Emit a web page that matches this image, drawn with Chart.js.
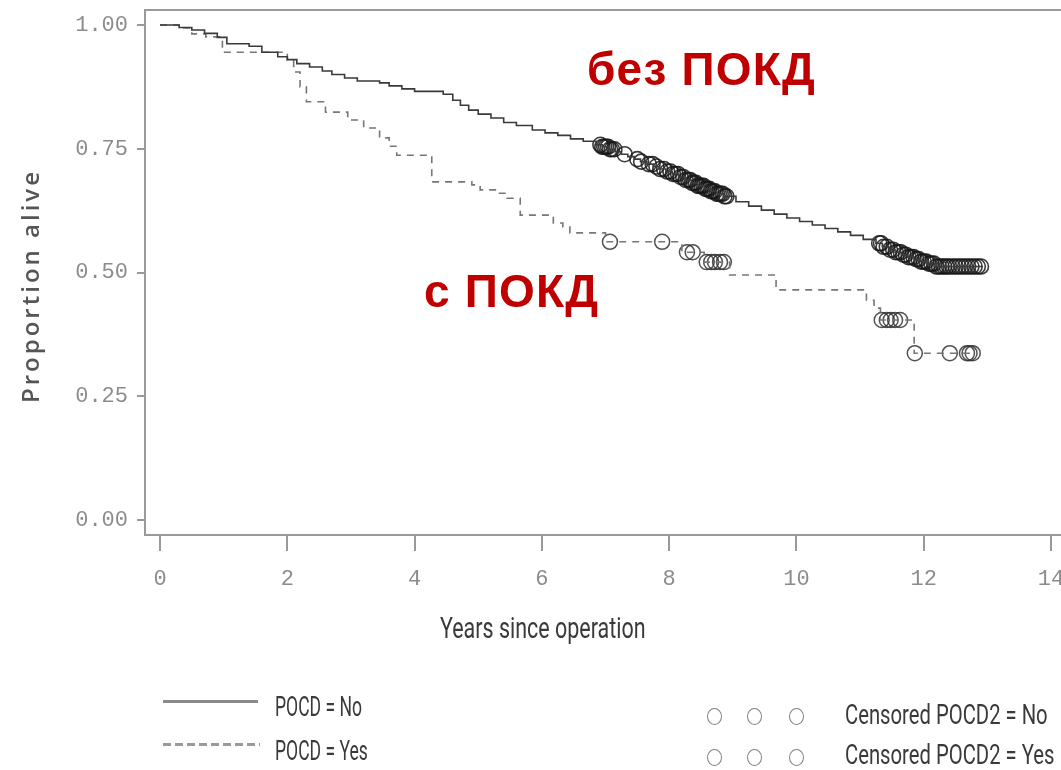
<!DOCTYPE html>
<html>
<head>
<meta charset="utf-8">
<script src="https://cdn.jsdelivr.net/npm/chart.js@4"></script>
<style>
  html, body { margin: 0; padding: 0; background: #fff; }
  #wrap { position: relative; width: 1061px; height: 770px; overflow: hidden; background: #fff; }
  #km { position: absolute; left: 0; top: 0; }
  .txt { position: absolute; white-space: nowrap; }
  .ru { font-family: "Liberation Sans", Arial, sans-serif; font-weight: bold; font-size: 46px; line-height: 46px; letter-spacing: 1.2px; color: #c00000; }
  .cond { font-family: Roboto, sans-serif; font-size: 27px; line-height: 32px; color: #3a3a3a; transform-origin: left top; }
  .ring { position: absolute; width: 13px; height: 15px; border: 1.6px solid #808080; border-radius: 50%; }
</style>
</head>
<body>
<div id="wrap">
  <canvas id="km" width="1130" height="770"></canvas>

  <div class="txt" style="left:-120px; top:272px; width:300px; height:28px; line-height:28px; text-align:center; font-family:'Open Sans',sans-serif; font-weight:600; font-size:24px; letter-spacing:3px; color:#555; transform:rotate(-90deg);">Proportion alive</div>
  <div class="txt" style="left:440px; top:611px; font-family:Roboto,sans-serif; font-size:29px; line-height:34px; color:#3a3a3a; transform:scaleX(0.74); transform-origin:left top;">Years since operation</div>

  <div class="txt ru" style="left:587px; top:46px;">без ПОКД</div>
  <div class="txt ru" style="left:424px; top:268px;">с ПОКД</div>

  <div style="position:absolute; left:163px; top:700px; width:95px; height:3px; background:#8a8a8a;"></div>
  <div style="position:absolute; left:163px; top:743px; width:97px; height:3px; background:repeating-linear-gradient(to right, #9a9a9a 0 8px, transparent 8px 12px);"></div>
  <div class="txt cond" style="left:275px; top:691px; transform:scaleX(0.65);">POCD = No</div>
  <div class="txt cond" style="left:275px; top:735px; transform:scaleX(0.65);">POCD = Yes</div>

  <div class="ring" style="left:707px; top:708px;"></div>
  <div class="ring" style="left:747px; top:708px;"></div>
  <div class="ring" style="left:789px; top:708px;"></div>
  <div class="ring" style="left:707px; top:749px;"></div>
  <div class="ring" style="left:747px; top:749px;"></div>
  <div class="ring" style="left:789px; top:749px;"></div>
  <div class="txt cond" style="left:845px; top:699px; transform:scaleX(0.75);">Censored POCD2 = No</div>
  <div class="txt cond" style="left:845px; top:739px; transform:scaleX(0.75);">Censored POCD2 = Yes</div>
</div>

<script>
'use strict';

// Kaplan-Meier curve, POCD = No (time in years, proportion alive after the step)
const noTimes = [
  0, 0.3, 0.5, 0.7, 0.9, 1.05, 1.4, 1.6, 1.85, 2.0,
  2.15, 2.35, 2.55, 2.7, 2.9, 3.1, 3.45, 3.6, 3.8, 4.0,
  4.45, 4.6, 4.72, 4.85, 5.0, 5.2, 5.4, 5.6, 5.85, 6.05,
  6.25, 6.45, 6.65, 6.85, 6.95, 7.05, 7.15, 7.25, 7.35, 7.45,
  7.55, 7.65, 7.75, 7.85, 7.95, 8.05, 8.15, 8.25, 8.35, 8.45,
  8.55, 8.65, 8.75, 8.85, 9.05, 9.25, 9.45, 9.65, 9.85, 10.05,
  10.25, 10.45, 10.65, 10.85, 11.05, 11.25, 11.35, 11.45, 11.55, 11.65,
  11.75, 11.85, 11.95, 12.05, 12.2, 12.93
];
const noSurv = [
  1.0, 0.995, 0.99, 0.983, 0.975, 0.962, 0.957, 0.945, 0.936, 0.93,
  0.922, 0.915, 0.907, 0.9, 0.893, 0.887, 0.883, 0.877, 0.871, 0.866,
  0.86, 0.848, 0.838, 0.828, 0.82, 0.812, 0.803, 0.797, 0.788, 0.782,
  0.777, 0.77, 0.765, 0.758, 0.754, 0.749, 0.744, 0.739, 0.734, 0.729,
  0.724, 0.719, 0.714, 0.709, 0.704, 0.699, 0.693, 0.687, 0.681, 0.675,
  0.669, 0.664, 0.659, 0.654, 0.643, 0.634, 0.626, 0.618, 0.61, 0.603,
  0.596, 0.589, 0.582, 0.575, 0.567, 0.559, 0.552, 0.546, 0.541, 0.536,
  0.531, 0.527, 0.522, 0.518, 0.512, 0.512
];

// Kaplan-Meier curve, POCD = Yes
const yesTimes = [
  0, 0.35, 0.5, 0.72, 0.98, 2.0, 2.1, 2.2, 2.3, 2.6,
  2.95, 3.2, 3.45, 3.6, 3.72, 4.27, 4.9, 5.03, 5.3, 5.45,
  5.66, 6.18, 6.33, 6.44, 7.0, 8.2, 8.55, 8.95, 9.68, 11.1,
  11.22, 11.32, 11.85, 12.8
];
const yesSurv = [
  1.0, 0.994, 0.982, 0.976, 0.945, 0.93, 0.905, 0.875, 0.845, 0.824,
  0.808, 0.792, 0.772, 0.755, 0.737, 0.683, 0.677, 0.667, 0.66, 0.65,
  0.616, 0.6, 0.592, 0.58, 0.562, 0.541, 0.521, 0.495, 0.465, 0.444,
  0.428, 0.404, 0.337, 0.337
];

// censoring times (circles sit on the curve)
const noCensored = [
  6.92, 6.95, 6.98, 7.01, 7.04, 7.07, 7.1, 7.14, 7.3, 7.5,
  7.56, 7.68, 7.74, 7.8, 7.86, 7.92, 7.97, 8.02, 8.06, 8.1,
  8.14, 8.18, 8.22, 8.26, 8.3, 8.33, 8.36, 8.39, 8.42, 8.45,
  8.48, 8.51, 8.54, 8.57, 8.6, 8.63, 8.66, 8.69, 8.72, 8.75,
  8.78, 8.81, 8.84, 8.87, 8.9,
  11.3, 11.33, 11.37, 11.42, 11.47, 11.52, 11.56, 11.6, 11.64, 11.68,
  11.72, 11.76, 11.8, 11.84, 11.88, 11.92, 11.96, 12.0, 12.04, 12.08,
  12.12, 12.16, 12.2, 12.24, 12.28, 12.32, 12.36, 12.4, 12.45, 12.5,
  12.55, 12.6, 12.65, 12.7, 12.75, 12.8, 12.85, 12.9
];
const yesCensored = [
  7.07, 7.89, 8.28, 8.37, 8.59, 8.66, 8.72, 8.8, 8.86,
  11.34, 11.42, 11.48, 11.55, 11.63, 11.86, 12.41, 12.68, 12.72, 12.77
];

const xTicks = [0, 2, 4, 6, 8, 10, 12, 14];
const yTicks = [0, 0.25, 0.5, 0.75, 1.0];

function toPoints(times, surv) {
  return times.map(function (t, i) { return { x: t, y: surv[i] }; });
}

// value of the step curve at time t
function survAt(times, surv, t) {
  let v = surv[0];
  for (let i = 0; i < times.length; i++) {
    if (times[i] <= t) v = surv[i];
  }
  return v;
}

function censorPoints(cens, times, surv) {
  return cens.map(function (t) { return { x: t, y: survAt(times, surv, t) }; });
}

function noScalePadding(s) {
  s.paddingTop = 0;
  s.paddingBottom = 0;
  s.paddingLeft = 0;
  s.paddingRight = 0;
}

const tickFont = { family: "'Liberation Mono', 'DejaVu Sans Mono', monospace", size: 22 };
const axisGrey = '#999';

const topBorder = {
  id: 'topBorder',
  afterDraw: function (chart) {
    const a = chart.chartArea;
    const ctx = chart.ctx;
    ctx.save();
    ctx.strokeStyle = axisGrey;
    ctx.lineWidth = 2;
    ctx.beginPath();
    ctx.moveTo(a.left - 1, a.top);
    ctx.lineTo(a.right, a.top);
    ctx.stroke();
    ctx.restore();
  }
};

new Chart(document.getElementById('km').getContext('2d'), {
  type: 'line',
  data: {
    datasets: [
      {
        label: 'POCD = No',
        data: toPoints(noTimes, noSurv),
        stepped: true,
        borderColor: '#3a3a3a',
        borderWidth: 1.6,
        pointRadius: 0,
        fill: false,
      },
      {
        label: 'POCD = Yes',
        data: toPoints(yesTimes, yesSurv),
        stepped: true,
        borderColor: '#777',
        borderWidth: 1.6,
        borderDash: [7, 6],
        pointRadius: 0,
        fill: false,
      },
      {
        label: 'Censored POCD2 = No',
        data: censorPoints(noCensored, noTimes, noSurv),
        showLine: false,
        pointStyle: 'circle',
        pointRadius: 7.5,
        pointBorderWidth: 1.6,
        pointBorderColor: 'rgba(25, 25, 25, 0.85)',
        pointBackgroundColor: 'transparent',
      },
      {
        label: 'Censored POCD2 = Yes',
        data: censorPoints(yesCensored, yesTimes, yesSurv),
        showLine: false,
        pointStyle: 'circle',
        pointRadius: 7.5,
        pointBorderWidth: 1.5,
        pointBorderColor: 'rgba(50, 50, 50, 0.85)',
        pointBackgroundColor: 'transparent',
      },
    ],
  },
  options: {
    responsive: false,
    animation: false,
    events: [],
    layout: { padding: { left: 0, top: 10, right: 30, bottom: 175 } },
    plugins: {
      legend: { display: false },
      tooltip: { enabled: false },
    },
    scales: {
      x: {
        type: 'linear',
        min: -0.236,
        max: 14.77,
        afterBuildTicks: function (s) { s.ticks = xTicks.map(function (v) { return { value: v }; }); },
        afterFit: function (s) { s.height = 60; noScalePadding(s); },
        ticks: {
          autoSkip: false,
          maxRotation: 0,
          padding: 15,
          color: '#8c8c8c',
          font: tickFont,
          callback: function (v) { return String(v); },
        },
        grid: { drawOnChartArea: false, tickLength: 16, color: axisGrey, lineWidth: 2 },
        border: { color: axisGrey, width: 2 },
      },
      y: {
        type: 'linear',
        min: -0.0303,
        max: 1.0303,
        afterBuildTicks: function (s) { s.ticks = yTicks.map(function (v) { return { value: v }; }); },
        afterFit: function (s) { s.width = 145; noScalePadding(s); },
        ticks: {
          padding: 9,
          color: '#8c8c8c',
          font: tickFont,
          callback: function (v) { return v.toFixed(2); },
        },
        grid: { drawOnChartArea: false, tickLength: 8, color: axisGrey, lineWidth: 2 },
        border: { color: axisGrey, width: 2 },
      },
    },
  },
  plugins: [topBorder],
});
</script>
</body>
</html>
